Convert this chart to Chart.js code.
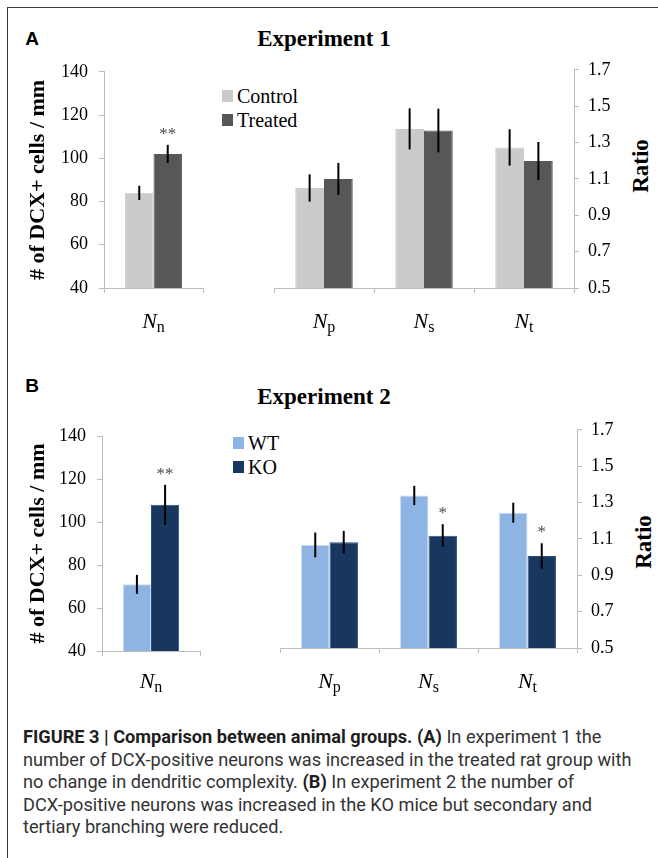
<!DOCTYPE html>
<html lang="en">
<head>
<meta charset="UTF-8">
<title>Figure 3 - Comparison between animal groups</title>
<script src="https://cdn.jsdelivr.net/npm/chart.js"></script>
<style>
  html, body { margin: 0; padding: 0; background: #fff; }
  body { width: 658px; height: 858px; position: relative; overflow: hidden; font-family: 'Liberation Serif', 'Times New Roman', serif; }
  .frame { position: absolute; left: 7px; top: 7px; right: -2px; bottom: -2px; border-top: 1px solid #3a3a3a; border-left: 1px solid #3a3a3a; }
  .abs { position: absolute; line-height: 1; white-space: nowrap; }
  .center { transform: translate(-50%, -50%); }
  .panel-letter { font-family: 'Liberation Sans', Arial, sans-serif; font-weight: bold; font-size: 19px; color: #000; }
  .title { font-weight: bold; font-size: 23px; color: #000; }
  .ratio { font-weight: bold; font-size: 23px; transform: translate(-50%, -50%) rotate(-90deg); }
  .legend-item { font-size: 20px; color: #000; display: flex; align-items: center; }
  .legend-item i { display: inline-block; width: 11px; height: 12px; margin-right: 4px; }
  canvas { position: absolute; }
  .caption { position: absolute; left: 23px; top: 726px; font-family: 'Roboto', 'Liberation Sans', sans-serif; font-size: 18.2px; line-height: 22.5px; color: #333; white-space: nowrap; }
  .caption b { color: #1e1e1e; }
</style>
</head>
<body>
<div class="frame"></div>

<div class="abs center panel-letter" style="left:32px; top:38px;">A</div>
<div class="abs center title" style="left:324px; top:38px;">Experiment 1</div>
<div class="abs" id="legendA" style="left:222px; top:84px;"></div>
<div class="abs ratio" style="left:640px; top:166px;">Ratio</div>
<canvas id="chartA1" width="190" height="300" style="left:25px; top:50px;"></canvas>
<canvas id="chartA2" width="398" height="300" style="left:260px; top:50px;"></canvas>

<div class="abs center panel-letter" style="left:32px; top:385px;">B</div>
<div class="abs center title" style="left:324px; top:396px;">Experiment 2</div>
<div class="abs" id="legendB" style="left:233px; top:431px;"></div>
<div class="abs ratio" style="left:643px; top:542px;">Ratio</div>
<canvas id="chartB1" width="190" height="300" style="left:25px; top:410px;"></canvas>
<canvas id="chartB2" width="398" height="300" style="left:260px; top:410px;"></canvas>

<div class="caption">
<b>FIGURE 3 | Comparison between animal groups. (A)</b> In experiment 1 the<br>
number of DCX-positive neurons was increased in the treated rat group with<br>
no change in dendritic complexity. <b>(B)</b> In experiment 2 the number of<br>
DCX-positive neurons was increased in the KO mice but secondary and<br>
tertiary branching were reduced.
</div>

<script>
// categories: [main letter, subscript]
const countCats = [['N', 'n']];
const ratioCats = [['N', 'p'], ['N', 's'], ['N', 't']];

// Experiment 1 (rats)
const exp1Groups = ['Control', 'Treated'];
const exp1CountControl = [84];
const exp1CountControlErr = [3.3];
const exp1CountTreated = [102];
const exp1CountTreatedErr = [4.2];
const exp1CountTreatedSig = ['**'];
const exp1RatioControl = [1.05, 1.375, 1.273];
const exp1RatioControlErr = [0.075, 0.113, 0.10];
const exp1RatioTreated = [1.10, 1.366, 1.198];
const exp1RatioTreatedErr = [0.088, 0.12, 0.105];

// Experiment 2 (mice)
const exp2Groups = ['WT', 'KO'];
const exp2CountWT = [71];
const exp2CountWTErr = [4.4];
const exp2CountKO = [108];
const exp2CountKOErr = [9.3];
const exp2CountKOSig = ['**'];
const exp2RatioWT = [1.067, 1.339, 1.244];
const exp2RatioWTErr = [0.068, 0.053, 0.055];
const exp2RatioKO = [1.082, 1.118, 1.006];
const exp2RatioKOErr = [0.062, 0.063, 0.07];
const exp2RatioKOSig = ['', '*', '*'];

// axis ticks
const countTicks = { min: 40, max: 140, step: 20 };
const ratioTicks = { min: 0.5, max: 1.7, step: 0.2 };

const colors = {
  Control: { fill: '#cbcbcb', border: '#cbcbcb' },
  Treated: { fill: '#575757', border: '#575757' },
  WT: { fill: '#8eb4e3', border: '#c6d9f1' },
  KO: { fill: '#17375e', border: '#2b4d7a' }
};
const axisGrey = '#bdbdbd';
const serif = 'Liberation Serif';

Chart.defaults.font.family = serif;
Chart.defaults.color = '#000';

// error bars + significance stars, drawn from the y scale
const errorBars = {
  id: 'errorBars',
  afterDatasetsDraw(chart) {
    const ctx = chart.ctx, y = chart.scales.y;
    chart.data.datasets.forEach((ds, i) => {
      chart.getDatasetMeta(i).data.forEach((bar, j) => {
        const v = ds.data[j], e = ds.errors[j];
        const top = y.getPixelForValue(v + e), bot = y.getPixelForValue(v - e);
        ctx.save();
        ctx.strokeStyle = '#000';
        ctx.lineWidth = 2;
        ctx.beginPath();
        ctx.moveTo(bar.x, top);
        ctx.lineTo(bar.x, bot);
        ctx.stroke();
        const s = ds.stars && ds.stars[j];
        if (s) {
          ctx.fillStyle = '#4a4a4a';
          ctx.font = '17px "' + serif + '"';
          ctx.textAlign = 'center';
          ctx.textBaseline = 'alphabetic';
          ctx.fillText(s, bar.x, top - 6);
        }
        ctx.restore();
      });
    });
  }
};

// italic N with upright subscript under each category
const catLabels = {
  id: 'catLabels',
  afterDraw(chart, args, opts) {
    const ctx = chart.ctx, x = chart.scales.x;
    const base = chart.chartArea.bottom + opts.offset;
    opts.cats.forEach((c, i) => {
      const cx = x.getPixelForValue(i);
      ctx.save();
      ctx.fillStyle = '#000';
      ctx.textBaseline = 'alphabetic';
      ctx.textAlign = 'left';
      ctx.font = 'italic 22px "' + serif + '"';
      const w1 = ctx.measureText(c[0]).width;
      ctx.font = '16px "' + serif + '"';
      const w2 = ctx.measureText(c[1]).width;
      const left = cx - (w1 + w2) / 2;
      ctx.font = 'italic 22px "' + serif + '"';
      ctx.fillText(c[0], left, base);
      ctx.font = '16px "' + serif + '"';
      ctx.fillText(c[1], left + w1, base + 4);
      ctx.restore();
    });
  }
};

function makeChart(id, cats, series, ticks, box) {
  const datasets = series.map(s => ({
    label: s.label,
    data: s.data,
    errors: s.errors,
    stars: s.stars,
    backgroundColor: colors[s.label].fill,
    borderColor: colors[s.label].border,
    borderWidth: 1,
    barPercentage: 1,
    categoryPercentage: 0.575
  }));
  return new Chart(document.getElementById(id), {
    type: 'bar',
    data: { labels: cats.map(c => c.join('')), datasets },
    plugins: [errorBars, catLabels],
    options: {
      responsive: false,
      animation: false,
      layout: { padding: box.padding },
      plugins: {
        legend: { display: false },
        tooltip: { enabled: false },
        catLabels: { cats, offset: box.labelOffset }
      },
      scales: {
        x: {
          grid: { display: true, drawOnChartArea: false, color: axisGrey, tickLength: 5, offset: true },
          border: { color: axisGrey, width: 1 },
          ticks: { display: false },
          afterFit(s) { s.height = box.xHeight; }
        },
        y: {
          position: box.yPos,
          min: ticks.min,
          max: ticks.max,
          ticks: {
            stepSize: ticks.step,
            padding: box.tickPad,
            color: '#000',
            font: { family: serif, size: 18 },
            callback: v => ticks.step < 1 ? Number(v).toFixed(1) : v
          },
          grid: { drawOnChartArea: false, color: axisGrey, tickLength: 5 },
          border: { color: axisGrey, width: 1 },
          title: {
            display: !!box.yTitle,
            text: box.yTitle || '',
            color: '#000',
            padding: 0,
            font: { family: serif, size: 22, weight: 'bold' }
          },
          afterFit(s) { s.width = box.yWidth; }
        }
      }
    }
  });
}

function makeLegend(id, groups) {
  document.getElementById(id).innerHTML = groups.map(g =>
    '<div class="legend-item" style="height:24px"><i style="background:' + colors[g].fill + '"></i>' + g + '</div>'
  ).join('');
}

makeChart('chartA1', countCats, [
  { label: exp1Groups[0], data: exp1CountControl, errors: exp1CountControlErr },
  { label: exp1Groups[1], data: exp1CountTreated, errors: exp1CountTreatedErr, stars: exp1CountTreatedSig }
], countTicks, { padding: { left: 0, right: 12, top: 17, bottom: 0 }, yPos: 'left', yWidth: 79, xHeight: 62, tickPad: 11, labelOffset: 40, yTitle: '# of DCX+ cells / mm' });

makeChart('chartA2', ratioCats, [
  { label: exp1Groups[0], data: exp1RatioControl, errors: exp1RatioControlErr },
  { label: exp1Groups[1], data: exp1RatioTreated, errors: exp1RatioTreatedErr }
], ratioTicks, { padding: { left: 14, right: 0, top: 17, bottom: 0 }, yPos: 'right', yWidth: 84, xHeight: 62, tickPad: 9, labelOffset: 40 });

makeChart('chartB1', countCats, [
  { label: exp2Groups[0], data: exp2CountWT, errors: exp2CountWTErr },
  { label: exp2Groups[1], data: exp2CountKO, errors: exp2CountKOErr, stars: exp2CountKOSig }
], countTicks, { padding: { left: 0, right: 15, top: 26, bottom: 0 }, yPos: 'left', yWidth: 77, xHeight: 59, tickPad: 11, labelOffset: 37, yTitle: '# of DCX+ cells / mm' });

makeChart('chartB2', ratioCats, [
  { label: exp2Groups[0], data: exp2RatioWT, errors: exp2RatioWTErr },
  { label: exp2Groups[1], data: exp2RatioKO, errors: exp2RatioKOErr, stars: exp2RatioKOSig }
], ratioTicks, { padding: { left: 20, right: 0, top: 18, bottom: 0 }, yPos: 'right', yWidth: 81, xHeight: 62, tickPad: 9, labelOffset: 40 });

makeLegend('legendA', exp1Groups);
makeLegend('legendB', exp2Groups);
</script>
</body>
</html>
